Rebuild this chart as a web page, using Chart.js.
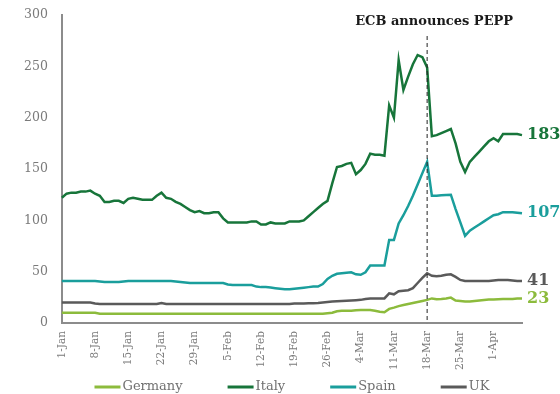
<!DOCTYPE html>
<html>
<head>
<meta charset="utf-8">
<script src="https://cdn.jsdelivr.net/npm/chart.js@4.4.1/dist/chart.umd.min.js"></script>
<style>
    html, body { margin: 0; padding: 0; background: #fff; }
    #wrap { width: 560px; height: 394px; }
</style>
</head>
<body>
<div id="wrap"><canvas id="spreads"></canvas></div>
<script>
// Etiquetas semanales del eje x (una cada 7 días, 1-Ene a 7-Abr)
const weekLabels = ['1-Jan', '8-Jan', '15-Jan', '22-Jan', '29-Jan', '5-Feb', '12-Feb',
    '19-Feb', '26-Feb', '4-Mar', '11-Mar', '18-Mar', '25-Mar', '1-Apr'];
const yTicks = [0, 50, 100, 150, 200, 250, 300];

const germany = [
    10, 10, 10, 10, 10, 10, 10, 10, 9, 9,
    9, 9, 9, 9, 9, 9, 9, 9, 9, 9,
    9, 9, 9, 9, 9, 9, 9, 9, 9, 9,
    9, 9, 9, 9, 9, 9, 9, 9, 9, 9,
    9, 9, 9, 9, 9, 9, 9, 9, 9, 9,
    9, 9, 9, 9, 9, 9, 9.5, 10, 11.5, 12,
    12, 12, 12.5, 12.8, 12.8, 12.8, 12, 11, 10.5, 13.8,
    15, 16.5, 17.5, 18.5, 19.5, 20.5, 21.5, 22.6, 24, 23.2,
    23.5, 24, 24.8, 22, 21.5, 21, 21, 21.5, 22, 22.5,
    23, 23, 23.2, 23.5, 23.5, 23.5, 24, 24
];
const italy = [
    122, 126, 127, 127, 128, 128, 129, 126, 124, 118,
    118, 119, 119, 117, 121, 122, 121, 120, 120, 120,
    124, 127, 122, 121, 118, 116, 113, 110, 108, 109,
    107, 107, 108, 108, 102, 98, 98, 98, 98, 98,
    99, 99, 96, 96, 98, 97, 97, 97, 99, 99,
    99, 100, 104, 108, 112, 116, 119, 136, 152, 153,
    155, 156, 145, 149, 155, 165, 164, 164, 163, 212,
    200, 256, 227, 240, 252, 261, 259, 249, 182, 183,
    185, 187, 189, 175, 157, 147, 157, 162, 167, 172,
    177, 180, 177, 184, 184, 184, 184, 183
];
const spain = [
    41, 41, 41, 41, 41, 41, 41, 41, 40.5, 40,
    40, 40, 40, 40.5, 41, 41, 41, 41, 41, 41,
    41, 41, 41, 41, 40.5, 40, 39.5, 39, 39, 39,
    39, 39, 39, 39, 39, 37.5, 37, 37, 37, 37,
    37, 35.5, 35, 35, 34.6, 34, 33.5, 33, 33, 33.5,
    34, 34.5, 35, 35.5, 35.5, 38, 43, 46, 48, 48.5,
    49, 49.5, 47.5, 47, 49.5, 56, 56, 56, 56, 81,
    81, 97, 105, 114, 124, 135, 146, 157, 124, 124,
    124.5, 124.8, 125, 111, 98, 85, 90, 93, 96, 99,
    102, 105, 106, 108, 108, 108, 107.5, 107
];
const uk = [
    20, 20, 20, 20, 20, 20, 20, 19, 18.5, 18.5,
    18.5, 18.5, 18.5, 18.5, 18.5, 18.5, 18.5, 18.5, 18.5, 18.5,
    18.5, 19.5, 18.5, 18.5, 18.5, 18.5, 18.5, 18.5, 18.5, 18.5,
    18.5, 18.5, 18.5, 18.5, 18.5, 18.5, 18.5, 18.5, 18.5, 18.5,
    18.5, 18.5, 18.5, 18.5, 18.5, 18.5, 18.5, 18.5, 18.5, 19,
    19, 19, 19.3, 19.3, 19.5, 20, 20.5, 21, 21.3, 21.6,
    21.8, 22, 22.3, 22.6, 23.5, 24, 24, 24, 24, 29,
    28, 31, 31.5, 32, 34, 39, 44, 48.5, 46, 45.5,
    46, 47, 47.5, 45, 42, 41, 41, 41, 41, 41,
    41, 41.5, 42, 42, 42, 41.5, 41, 41
];
const endLabels = ['23', '183', '107', '41'];
const pepIndex = 77; // 18-Mar
const pepLabel = 'ECB announces PEPP';

const colores = {
    germany: '#8cbb3c',
    italy: '#17753a',
    spain: '#1a9e9c',
    uk: '#5a5a5a'
};

const serif = '"DejaVu Serif", serif';

// una categoría por día; sólo cada séptimo día lleva etiqueta
const labels = italy.map((v, i) => (i % 7 === 0 ? weekLabels[i / 7] : ''));

function serie(nombre, datos, color) {
    return {
        label: nombre,
        data: datos,
        borderColor: color,
        backgroundColor: color,
        borderWidth: 2.5,
        pointRadius: 0,
        tension: 0,
        fill: false
    };
}

const marcas = {
    id: 'marcas',
    afterDatasetsDraw(chart) {
        const ctx = chart.ctx;
        const area = chart.chartArea;
        const x = chart.scales.x.getPixelForValue(pepIndex);
        ctx.save();
        // línea vertical del anuncio del BCE
        ctx.strokeStyle = '#222';
        ctx.lineWidth = 1;
        ctx.setLineDash([4, 3]);
        ctx.beginPath();
        ctx.moveTo(x, 36);
        ctx.lineTo(x, area.bottom);
        ctx.stroke();
        ctx.setLineDash([]);
        ctx.font = 'bold 13px ' + serif;
        ctx.fillStyle = '#1a1a1a';
        ctx.textAlign = 'center';
        ctx.textBaseline = 'middle';
        ctx.fillText(pepLabel, x + 7, 22);
        // valores finales
        ctx.font = 'bold 16px ' + serif;
        ctx.textAlign = 'left';
        chart.data.datasets.forEach((ds, i) => {
            const meta = chart.getDatasetMeta(i);
            const ultimo = meta.data[meta.data.length - 1];
            ctx.fillStyle = ds.borderColor;
            ctx.fillText(endLabels[i], ultimo.x + 5, ultimo.y);
        });
        // leyenda en una sola fila, centrada sobre el área del gráfico
        ctx.font = '13px ' + serif;
        ctx.textBaseline = 'middle';
        const lineLen = 26, gap = 2, sep = 45;
        const anchos = chart.data.datasets.map(ds => lineLen + gap + ctx.measureText(ds.label).width);
        const total = anchos.reduce((a, b) => a + b, 0) + sep * (anchos.length - 1);
        let lx = (area.left + area.right) / 2 - total / 2;
        const ly = 387;
        chart.data.datasets.forEach((ds, i) => {
            ctx.strokeStyle = ds.borderColor;
            ctx.lineWidth = 3;
            ctx.beginPath();
            ctx.moveTo(lx, ly);
            ctx.lineTo(lx + lineLen, ly);
            ctx.stroke();
            ctx.fillStyle = '#707070';
            ctx.fillText(ds.label, lx + lineLen + gap, ly);
            lx += anchos[i] + sep;
        });
        ctx.restore();
    }
};

const ctx = document.getElementById('spreads').getContext('2d');

new Chart(ctx, {
    type: 'line',
    data: {
        labels: labels,
        datasets: [
            serie('Germany', germany, colores.germany),
            serie('Italy', italy, colores.italy),
            serie('Spain', spain, colores.spain),
            serie('UK', uk, colores.uk)
        ]
    },
    options: {
        responsive: true,
        maintainAspectRatio: false,
        animation: false,
        layout: {
            padding: { left: 10, right: 38, top: 15, bottom: 16 }
        },
        scales: {
            x: {
                offset: false,
                grid: { display: false, drawTicks: false },
                border: { display: true, color: '#8c8c8c', width: 2 },
                ticks: {
                    autoSkip: false,
                    maxRotation: 90,
                    minRotation: 90,
                    padding: 8,
                    color: '#7a7a7a',
                    font: { size: 10.5, family: serif }
                }
            },
            y: {
                min: 0,
                max: 300,
                grid: { display: false, drawTicks: false },
                border: { display: true, color: '#8c8c8c', width: 2 },
                afterBuildTicks(scale) {
                    scale.ticks = yTicks.map(v => ({ value: v }));
                },
                afterFit(scale) {
                    scale.paddingTop = 0;
                },
                ticks: {
                    padding: 14,
                    color: '#7a7a7a',
                    font: { size: 12.5, family: serif }
                }
            }
        },
        plugins: {
            legend: { display: false },
            tooltip: { enabled: false },
            title: { display: false }
        }
    },
    plugins: [marcas]
});
</script>
</body>
</html>
